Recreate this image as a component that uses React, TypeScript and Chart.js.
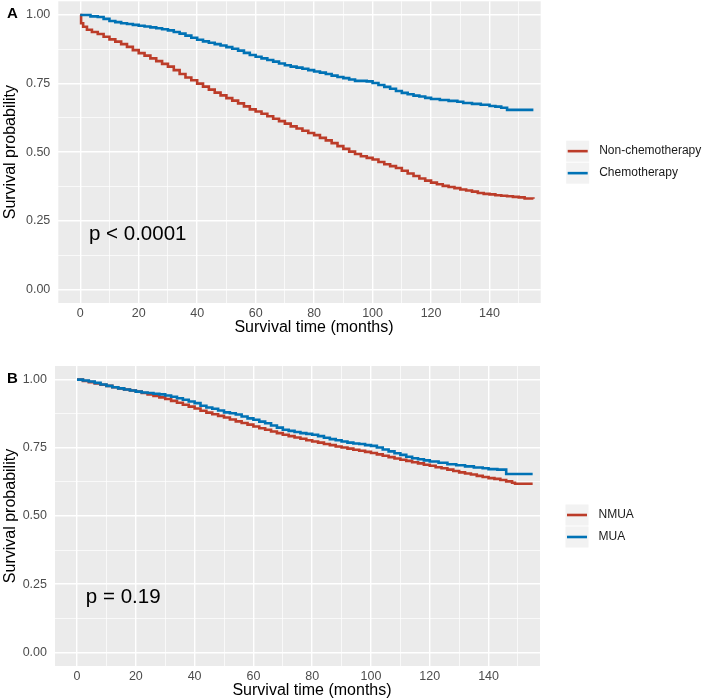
import React, { useEffect, useRef } from "react";
import { Chart, registerables } from "chart.js";
Chart.register(...registerables);

const FONT = '"Liberation Sans", Arial, Helvetica, sans-serif';
const RED = "#BC3C29";
const BLUE = "#0072B5";

// Axis ticks
const xMajorTicks = [0, 20, 40, 60, 80, 100, 120, 140];
const xMinorTicks = [10, 30, 50, 70, 90, 110, 130, 150];
const yMajorTicks = [0, 0.25, 0.5, 0.75, 1];
const yTickLabels = ["0.00", "0.25", "0.50", "0.75", "1.00"];
const yMinorTicks = [0.125, 0.375, 0.625, 0.875];
const xLimits = [-7.5, 157.5];
const yLimits = [-0.05, 1.05];

const xTitle = "Survival time (months)";
const yTitle = "Survival probability";

// Panel A
const legendA = ["Non-chemotherapy", "Chemotherapy"];
const pTextA = "p < 0.0001";
const nonChemoMonths = [0, 0.3, 1, 2.3, 4, 6, 8, 10, 12, 14, 16, 18, 20, 22, 24, 26, 28, 30, 32, 34, 36, 38, 40, 42, 44, 46, 48, 50, 52, 54, 56, 58, 60, 62, 64, 66, 68, 70, 72, 74, 76, 78, 80, 82, 84, 86, 88, 90, 92, 94, 96, 98, 100, 102, 104, 106, 108, 110, 112, 114, 116, 118, 120, 122, 124, 126, 128, 130, 132, 134, 136, 138, 140, 142, 144, 146, 148, 150, 152, 155];
const nonChemoSurv = [1.0, 0.97, 0.957, 0.946, 0.938, 0.931, 0.921, 0.911, 0.903, 0.894, 0.884, 0.872, 0.861, 0.852, 0.842, 0.832, 0.822, 0.812, 0.799, 0.785, 0.772, 0.762, 0.75, 0.739, 0.728, 0.717, 0.707, 0.697, 0.688, 0.678, 0.667, 0.656, 0.648, 0.64, 0.631, 0.622, 0.613, 0.604, 0.594, 0.586, 0.578, 0.57, 0.562, 0.552, 0.543, 0.533, 0.522, 0.512, 0.502, 0.493, 0.485, 0.479, 0.473, 0.464, 0.456, 0.449, 0.442, 0.432, 0.422, 0.413, 0.404, 0.396, 0.389, 0.383, 0.377, 0.373, 0.369, 0.364, 0.36, 0.356, 0.351, 0.348, 0.346, 0.343, 0.341, 0.339, 0.337, 0.335, 0.331, 0.33];
const chemoMonths = [0, 3.5, 6, 8, 10, 12, 14, 16, 18, 20, 22, 24, 26, 28, 30, 32, 34, 36, 38, 40, 42, 44, 46, 48, 50, 52, 54, 56, 58, 60, 62, 64, 66, 68, 70, 72, 74, 76, 78, 80, 82, 84, 86, 88, 90, 92, 94, 98, 100, 102, 104, 106, 108, 110, 112, 114, 116, 118, 120, 123, 126, 129, 131, 134, 137, 140, 142, 144, 146, 155];
const chemoSurv = [1.0, 0.995, 0.993, 0.986, 0.978, 0.974, 0.97, 0.967, 0.964, 0.961, 0.958, 0.955, 0.952, 0.948, 0.944, 0.938, 0.932, 0.925, 0.917, 0.91, 0.904, 0.899, 0.894, 0.889, 0.883, 0.877, 0.87, 0.862, 0.854, 0.848, 0.842, 0.836, 0.83, 0.823, 0.817, 0.812, 0.808, 0.804, 0.799, 0.794, 0.79, 0.785, 0.779, 0.774, 0.77, 0.765, 0.76, 0.758, 0.752, 0.745, 0.738, 0.731, 0.723, 0.716, 0.711, 0.706, 0.703, 0.698, 0.694, 0.69, 0.687, 0.684, 0.679, 0.676, 0.673, 0.668, 0.666, 0.662, 0.654, 0.654];

// Panel B
const legendB = ["NMUA", "MUA"];
const pTextB = "p = 0.19";
const nmuaMonths = [0, 2, 4, 6, 8, 10, 12, 14, 16, 18, 20, 22, 24, 26, 28, 30, 32, 34, 36, 38, 40, 42, 44, 46, 48, 50, 52, 54, 56, 58, 60, 62, 64, 66, 68, 70, 72, 74, 76, 78, 80, 82, 84, 86, 88, 90, 92, 94, 96, 98, 100, 102, 104, 106, 108, 110, 112, 114, 116, 118, 120, 122, 124, 126, 128, 130, 132, 134, 136, 138, 140, 142, 144, 146, 148, 149, 155];
const nmuaSurv = [1.0, 0.995, 0.991, 0.986, 0.981, 0.977, 0.972, 0.968, 0.964, 0.96, 0.956, 0.951, 0.946, 0.94, 0.935, 0.929, 0.922, 0.915, 0.908, 0.901, 0.894, 0.886, 0.879, 0.873, 0.867, 0.861, 0.854, 0.847, 0.841, 0.835, 0.828, 0.822, 0.816, 0.81, 0.804, 0.798, 0.793, 0.788, 0.783, 0.778, 0.773, 0.769, 0.764, 0.76, 0.755, 0.751, 0.747, 0.743, 0.739, 0.735, 0.731, 0.726, 0.721, 0.716, 0.711, 0.706, 0.702, 0.697, 0.693, 0.688, 0.684, 0.679, 0.675, 0.67, 0.665, 0.66, 0.656, 0.652, 0.647, 0.643, 0.639, 0.636, 0.632, 0.627, 0.622, 0.618, 0.618];
const muaMonths = [0, 2, 4, 6, 8, 10, 12, 14, 16, 18, 20, 22, 24, 26, 28, 30, 32, 34, 36, 38, 40, 42, 44, 46, 48, 50, 52, 54, 56, 58, 60, 62, 64, 66, 68, 70, 72, 74, 76, 78, 80, 82, 84, 86, 88, 90, 92, 94, 96, 98, 100, 102, 104, 106, 108, 110, 112, 114, 116, 118, 120, 123, 126, 129, 132, 135, 138, 140, 143, 146, 155];
const muaSurv = [1.0, 0.997, 0.993, 0.988, 0.982, 0.977, 0.972, 0.968, 0.964, 0.96, 0.956, 0.953, 0.951, 0.948, 0.946, 0.942, 0.937, 0.932, 0.926, 0.92, 0.914, 0.904, 0.898, 0.893, 0.887, 0.88, 0.877, 0.872, 0.865, 0.858, 0.853, 0.846, 0.84, 0.832, 0.824, 0.816, 0.812, 0.808, 0.804, 0.801, 0.798, 0.793, 0.787, 0.782, 0.778, 0.773, 0.769, 0.766, 0.764, 0.76, 0.757, 0.751, 0.744, 0.737, 0.73, 0.724, 0.717, 0.712, 0.708, 0.704, 0.7, 0.695, 0.69, 0.686, 0.682, 0.678, 0.675, 0.672, 0.67, 0.654, 0.654];

type PanelCfg = {
  tag: string;
  legend: string[];
  pText: string;
  redT: number[];
  redS: number[];
  blueT: number[];
  blueS: number[];
  yAxisWidth: number;
  padTop: number;
  padRight: number;
  xAxisHeight: number;
};

function toPoints(t: number[], s: number[]) {
  return t.map((x, i) => ({ x, y: s[i] }));
}

function makeDecor(cfg: PanelCfg) {
  return {
    id: "decor",
    beforeDraw(chart: any) {
      const { ctx, chartArea: a } = chart;
      ctx.save();
      ctx.fillStyle = "#EBEBEB";
      ctx.fillRect(a.left, a.top, a.right - a.left, a.bottom - a.top);
      ctx.restore();
    },
    afterDraw(chart: any) {
      const { ctx, chartArea: a } = chart;
      const xs = chart.scales.x;
      const ys = chart.scales.y;
      ctx.save();
      // Panel tag
      ctx.fillStyle = "#000";
      ctx.font = `bold 15px ${FONT}`;
      ctx.textAlign = "left";
      ctx.textBaseline = "alphabetic";
      ctx.fillText(cfg.tag, 7, a.top + 17);
      // y title
      ctx.save();
      ctx.translate(15, (a.top + a.bottom) / 2);
      ctx.rotate(-Math.PI / 2);
      ctx.font = `16px ${FONT}`;
      ctx.textAlign = "center";
      ctx.textBaseline = "alphabetic";
      ctx.fillText(yTitle, 0, 0);
      ctx.restore();
      // x title
      ctx.font = `16px ${FONT}`;
      ctx.textAlign = "center";
      ctx.textBaseline = "middle";
      ctx.fillText(xTitle, (a.left + a.right) / 2 + 14.5, a.bottom + 24.5);
      // p value
      ctx.font = `20.5px ${FONT}`;
      ctx.textAlign = "left";
      ctx.textBaseline = "middle";
      ctx.fillText(cfg.pText, xs.getPixelForValue(3), ys.getPixelForValue(0.2));
      // legend
      const keyLeft = a.right + 25.5;
      const cy = (a.top + a.bottom) / 2 + 10;
      const colors = [RED, BLUE];
      cfg.legend.forEach((lab, i) => {
        const top = i === 0 ? cy - 21.5 : cy + 0.5;
        ctx.fillStyle = "#F2F2F2";
        ctx.fillRect(keyLeft, top, 23, 21);
        const ly = top + 10.5;
        ctx.strokeStyle = colors[i];
        ctx.lineWidth = 2.6;
        ctx.beginPath();
        ctx.moveTo(keyLeft + 1.5, ly);
        ctx.lineTo(keyLeft + 21.5, ly);
        ctx.stroke();
        ctx.fillStyle = "#1A1A1A";
        ctx.font = `12px ${FONT}`;
        ctx.textAlign = "left";
        ctx.textBaseline = "middle";
        ctx.fillText(lab, keyLeft + 33, ly);
      });
      ctx.restore();
    },
  };
}

function zeroPad(s: any) {
  s.paddingTop = 0;
  s.paddingBottom = 0;
  s.paddingLeft = 0;
  s.paddingRight = 0;
}

function buildChart(canvas: HTMLCanvasElement, cfg: PanelCfg) {
  const xAll = [...xMajorTicks, ...xMinorTicks].sort((a, b) => a - b);
  const yAll = [...yMajorTicks, ...yMinorTicks].sort((a, b) => a - b);
  return new Chart(canvas, {
    type: "line",
    data: {
      datasets: [
        {
          label: cfg.legend[1],
          data: toPoints(cfg.blueT, cfg.blueS),
          borderColor: BLUE,
          backgroundColor: BLUE,
          borderWidth: 2.6,
          stepped: true,
          pointRadius: 0,
          fill: false,
        },
        {
          label: cfg.legend[0],
          data: toPoints(cfg.redT, cfg.redS),
          borderColor: RED,
          backgroundColor: RED,
          borderWidth: 2.6,
          stepped: true,
          pointRadius: 0,
          fill: false,
        },
      ],
    },
    options: {
      animation: false,
      responsive: false,
      devicePixelRatio: 1,
      layout: { padding: { left: 0, top: cfg.padTop, right: cfg.padRight, bottom: 0 } },
      plugins: { legend: { display: false }, tooltip: { enabled: false } },
      scales: {
        x: {
          type: "linear",
          min: xLimits[0],
          max: xLimits[1],
          afterBuildTicks: (s: any) => {
            s.ticks = xAll.map((v) => ({ value: v }));
          },
          afterFit: (s: any) => {
            s.height = cfg.xAxisHeight;
            zeroPad(s);
          },
          ticks: {
            autoSkip: false,
            maxRotation: 0,
            padding: 3,
            color: "#4D4D4D",
            font: { family: FONT, size: 12.5 },
            callback: (v: any) => (xMajorTicks.indexOf(Number(v)) >= 0 ? String(v) : ""),
          },
          grid: {
            color: "#FFFFFF",
            drawTicks: false,
            lineWidth: (c: any) => (c.tick && xMajorTicks.indexOf(c.tick.value) >= 0 ? 1.4 : 0.7),
          },
          border: { display: false },
        },
        y: {
          type: "linear",
          min: yLimits[0],
          max: yLimits[1],
          afterBuildTicks: (s: any) => {
            s.ticks = yAll.map((v) => ({ value: v }));
          },
          afterFit: (s: any) => {
            s.width = cfg.yAxisWidth;
            zeroPad(s);
          },
          ticks: {
            autoSkip: false,
            padding: 8,
            color: "#4D4D4D",
            font: { family: FONT, size: 12.5 },
            callback: (v: any) => {
              const i = yMajorTicks.indexOf(Number(v));
              return i >= 0 ? yTickLabels[i] : "";
            },
          },
          grid: {
            color: "#FFFFFF",
            drawTicks: false,
            lineWidth: (c: any) => (c.tick && yMajorTicks.indexOf(c.tick.value) >= 0 ? 1.4 : 0.7),
          },
          border: { display: false },
        },
      },
    },
    plugins: [makeDecor(cfg)],
  } as any);
}

const panelA: PanelCfg = {
  tag: "A",
  legend: legendA,
  pText: pTextA,
  redT: nonChemoMonths,
  redS: nonChemoSurv,
  blueT: chemoMonths,
  blueS: chemoSurv,
  yAxisWidth: 58.3,
  padTop: 1.3,
  padRight: 170.3,
  xAxisHeight: 42,
};

const panelB: PanelCfg = {
  tag: "B",
  legend: legendB,
  pText: pTextB,
  redT: nmuaMonths,
  redS: nmuaSurv,
  blueT: muaMonths,
  blueS: muaSurv,
  yAxisWidth: 55,
  padTop: 11,
  padRight: 171,
  xAxisHeight: 34,
};

function Panel({ cfg, top }: { cfg: PanelCfg; top: number }) {
  const ref = useRef<HTMLCanvasElement | null>(null);
  useEffect(() => {
    if (!ref.current) return;
    const ch = buildChart(ref.current, cfg);
    return () => ch.destroy();
  }, [cfg]);
  return (
    <canvas
      ref={ref}
      width={711}
      height={345}
      style={{ position: "absolute", left: 0, top, width: 711, height: 345, display: "block" }}
    />
  );
}

export default function App() {
  return (
    <div style={{ position: "absolute", left: 0, top: 0, width: 711, height: 700, background: "#FFFFFF" }}>
      <Panel cfg={panelA} top={0} />
      <Panel cfg={panelB} top={355} />
    </div>
  );
}
